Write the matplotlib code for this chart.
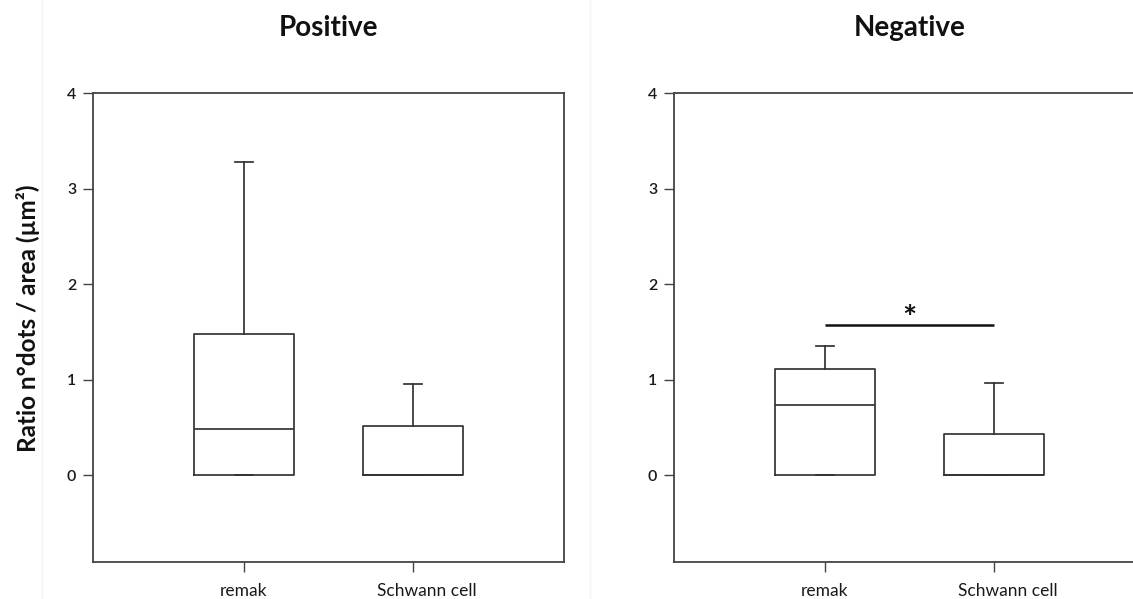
import matplotlib
matplotlib.use("Agg")
import matplotlib.pyplot as plt
from matplotlib.transforms import ScaledTranslation
from matplotlib.lines import Line2D

plt.rcParams['font.family'] = ['Lato', 'DejaVu Sans']

# ---- data ----
categories = ["remak", "Schwann cell"]
panel_titles = ["Positive", "Negative"]

# box statistics per panel: [remak, Schwann cell]
pos_q1 = [0.0, 0.0]
pos_med = [0.48, 0.0]
pos_q3 = [1.48, 0.51]
pos_whislo = [0.0, 0.0]
pos_whishi = [3.28, 0.95]

neg_q1 = [0.0, 0.0]
neg_med = [0.73, 0.0]
neg_q3 = [1.11, 0.43]
neg_whislo = [0.0, 0.0]
neg_whishi = [1.35, 0.96]

# significance bar in the Negative panel (between the two groups)
sig_level = 1.57
sig_mark = "*"

y_ticks = [0, 1, 2, 3, 4]
y_label = "Ratio n°dots / area (µm²)"

W, H = 1133, 599
fig = plt.figure(figsize=(W / 100, H / 100), dpi=100)
fig.patch.set_facecolor("white")

line_col = "#333333"
lw = 1.25


def make_stats(q1, med, q3, lo, hi):
    out = []
    for i in range(len(q1)):
        out.append(dict(q1=q1[i], med=med[i], q3=q3[i], whislo=lo[i],
                        whishi=hi[i], fliers=[], label=categories[i]))
    return out


def axes_rect(left_px):
    top_px, bottom_px, width_px = 93, 562, 471
    return [left_px / W, 1 - bottom_px / H, width_px / W, (bottom_px - top_px) / H]


panels = [
    (93, panel_titles[0], make_stats(pos_q1, pos_med, pos_q3, pos_whislo, pos_whishi)),
    (674, panel_titles[1], make_stats(neg_q1, neg_med, neg_q3, neg_whislo, neg_whishi)),
]

axes = []
for left_px, title, stats in panels:
    ax = fig.add_axes(axes_rect(left_px))
    props = dict(color=line_col, linewidth=lw)
    ax.bxp(stats, positions=[1, 2], widths=0.59, showfliers=False,
           boxprops=props, whiskerprops=props, capprops=props,
           medianprops=props, capwidths=0.11)
    ax.set_xlim(0.107, 2.893)
    ax.set_ylim(-0.91, 4)
    ax.set_yticks(y_ticks)
    ax.set_yticklabels([str(t) for t in y_ticks])
    ax.set_xticks([1, 2])
    ax.set_xticklabels(categories)
    for s in ax.spines.values():
        s.set_color("#444444")
        s.set_linewidth(1.3)
    ax.tick_params(axis="both", direction="out", length=7, width=1.0,
                   color="#444444", labelcolor="#1a1a1a")
    ax.tick_params(axis="y", labelsize=11.5, pad=5)
    ax.tick_params(axis="x", labelsize=12.5, pad=8)
    for t in ax.get_yticklabels():
        t.set_fontweight("semibold")
    # the second category label sits slightly to the right of its tick
    lbl = ax.get_xticklabels()[1]
    lbl.set_transform(lbl.get_transform() +
                      ScaledTranslation(0.14, 0, fig.dpi_scale_trans))
    ax.set_title(title, fontsize=20, fontweight="bold", pad=41, color="#111111")
    axes.append(ax)

# significance annotation
axn = axes[1]
axn.plot([1, 2], [sig_level, sig_level], color="#111111", linewidth=1.8,
         solid_capstyle="butt")
axn.text(1.5, sig_level - 0.09, sig_mark, ha="center", va="bottom",
         fontsize=24, fontweight="bold", color="#111111")

# shared y label
fig.text(28 / W, 1 - 318 / H, y_label, rotation=90, ha="center", va="center",
         fontsize=17.5, fontweight="bold", color="#111111")

# faint panel separators
for xp in (42, 590):
    fig.add_artist(Line2D([xp / W, xp / W], [0, 1], transform=fig.transFigure,
                          color="#f4f4f4", linewidth=1))

fig.savefig("out.png", dpi=100, facecolor="white")
